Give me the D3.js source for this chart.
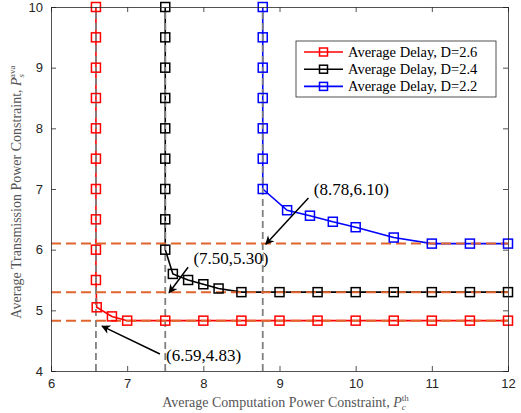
<!DOCTYPE html>
<html>
<head>
<meta charset="utf-8">
<script src="https://cdn.jsdelivr.net/npm/d3@7"></script>
<style>
  body { margin: 0; background: #fff; }
  text { fill: #262626; }
</style>
</head>
<body>
<div id="chart"></div>
<script>
// Series data (x = computation power, y = transmission power)
var red_x = [6.59, 6.59, 6.59, 6.59, 6.59, 6.59, 6.59, 6.59, 6.59, 6.59, 6.6, 6.8, 7, 7.5, 8, 8.5, 9, 9.5, 10, 10.5, 11, 11.5, 12];
var red_y = [10, 9.5, 9, 8.5, 8, 7.5, 7, 6.5, 6, 5.5, 5.05, 4.9, 4.83, 4.83, 4.83, 4.83, 4.83, 4.83, 4.83, 4.83, 4.83, 4.83, 4.83];

var black_x = [7.5, 7.5, 7.5, 7.5, 7.5, 7.5, 7.5, 7.5, 7.5, 7.6, 7.8, 8, 8.2, 8.5, 9, 9.5, 10, 10.5, 11, 11.5, 12];
var black_y = [10, 9.5, 9, 8.5, 8, 7.5, 7, 6.5, 6, 5.6, 5.5, 5.43, 5.36, 5.3, 5.3, 5.3, 5.3, 5.3, 5.3, 5.3, 5.3];

var blue_x = [8.78, 8.78, 8.78, 8.78, 8.78, 8.78, 8.78, 9.1, 9.4, 9.7, 10, 10.5, 11, 11.5, 12];
var blue_y = [10, 9.5, 9, 8.5, 8, 7.5, 7, 6.65, 6.56, 6.46, 6.37, 6.2, 6.1, 6.1, 6.1];

var series_names = ["Average Delay, D=2.6", "Average Delay, D=2.4", "Average Delay, D=2.2"];
var series_colors = ["#ff0000", "#000000", "#0000ff"];

// Reference lines
var ref_x = [6.59, 7.5, 8.78];
var ref_y = [4.83, 5.3, 6.1];

// Annotations: label, text position, arrow tail, arrow head
var ann_labels = ["(8.78,6.10)", "(7.50,5.30)", "(6.59,4.83)"];
var ann_text = [[9.45, 6.9], [7.87, 5.77], [7.51, 4.16]];
var ann_tail = [[9.38, 6.85], [7.8, 5.71], [7.43, 4.28]];
var ann_head = [[8.82, 6.09], [7.55, 5.29], [6.67, 4.74]];

var x_ticks = [6, 7, 8, 9, 10, 11, 12];
var y_ticks = [4, 5, 6, 7, 8, 9, 10];

// Margin convention
var margin = {top: 7, right: 13, bottom: 42, left: 51};
var width = 521 - margin.left - margin.right;
var height = 413 - margin.top - margin.bottom;

var svg = d3.select("#chart")
            .append("svg")
            .attr("width", 521)
            .attr("height", 413)
            .append("g")
            .attr("transform", "translate(" + margin.left + "," + margin.top + ")");

var x = d3.scaleLinear().domain([6, 12]).range([0, width]);
var y = d3.scaleLinear().domain([4, 10]).range([height, 0]);

svg.append("defs").append("marker")
   .attr("id", "arrow")
   .attr("viewBox", "0 0 10 10")
   .attr("refX", 9).attr("refY", 5)
   .attr("markerWidth", 11).attr("markerHeight", 9)
   .attr("markerUnits", "userSpaceOnUse")
   .attr("orient", "auto")
   .append("path")
   .attr("d", "M0,0 L10,5 L0,10 L3,5 Z")
   .attr("fill", "#000");

var series = [
    {x: red_x, y: red_y},
    {x: black_x, y: black_y},
    {x: blue_x, y: blue_y}
];

var line = d3.line().x(d => x(d[0])).y(d => y(d[1]));

series.forEach(function(s, i) {
    var pts = s.x.map((v, j) => [v, s.y[j]]);
    svg.append("path")
       .datum(pts)
       .attr("fill", "none")
       .attr("stroke", series_colors[i])
       .attr("stroke-width", 1.6)
       .attr("d", line);
});

// Dashed reference lines
svg.append("g").selectAll("line")
   .data(ref_x).enter().append("line")
   .attr("x1", d => x(d)).attr("x2", d => x(d))
   .attr("y1", y(4)).attr("y2", y(10))
   .attr("stroke", "#808080")
   .attr("stroke-width", 1.8)
   .attr("stroke-dasharray", "7 4");

svg.append("g").selectAll("line")
   .data(ref_y).enter().append("line")
   .attr("x1", x(6)).attr("x2", x(12))
   .attr("y1", d => y(d)).attr("y2", d => y(d))
   .attr("stroke", "#e0642c")
   .attr("stroke-width", 2)
   .attr("stroke-dasharray", "10 5");

// Markers
series.forEach(function(s, i) {
    var pts = s.x.map((v, j) => [v, s.y[j]]);
    svg.append("g").selectAll("rect")
       .data(pts).enter().append("rect")
       .attr("x", d => x(d[0]) - 4.5)
       .attr("y", d => y(d[1]) - 4.5)
       .attr("width", 9).attr("height", 9)
       .attr("fill", "none")
       .attr("stroke", series_colors[i])
       .attr("stroke-width", 1.5);
});

// Axes (box with inward ticks)
var axisColor = "#262626";
var gx = svg.append("g").attr("transform", "translate(0," + height + ")")
            .call(d3.axisBottom(x).tickValues(x_ticks).tickSize(-5).tickPadding(8).tickFormat(d3.format("d")));
var gxt = svg.append("g")
             .call(d3.axisTop(x).tickValues(x_ticks).tickSize(-5).tickFormat(""));
var gy = svg.append("g")
            .call(d3.axisLeft(y).tickValues(y_ticks).tickSize(-5).tickPadding(8).tickFormat(d3.format("d")));
var gyr = svg.append("g").attr("transform", "translate(" + width + ",0)")
             .call(d3.axisRight(y).tickValues(y_ticks).tickSize(-5).tickFormat(""));

[gx, gxt, gy, gyr].forEach(function(g) {
    g.selectAll("path, line").attr("stroke", axisColor).attr("stroke-width", 0.8);
    g.selectAll("text").attr("font-family", "Liberation Sans, Arial, sans-serif")
     .attr("font-size", 13).attr("fill", axisColor);
});

// Legend
var legend = svg.append("g").attr("transform", "translate(" + (296 - margin.left) + "," + (41 - margin.top) + ")");
legend.append("rect")
      .attr("width", 200).attr("height", 56)
      .attr("fill", "#fff").attr("stroke", "#262626").attr("stroke-width", 0.8);
series_names.forEach(function(name, i) {
    var ly = 11 + i * 17.2;
    legend.append("line")
          .attr("x1", 8).attr("x2", 47).attr("y1", ly).attr("y2", ly)
          .attr("stroke", series_colors[i]).attr("stroke-width", 1.6);
    legend.append("rect")
          .attr("x", 27.5 - 4).attr("y", ly - 4).attr("width", 8).attr("height", 8)
          .attr("fill", "none").attr("stroke", series_colors[i]).attr("stroke-width", 1.5);
    legend.append("text")
          .attr("x", 52).attr("y", ly + 5)
          .attr("font-family", "Liberation Serif, Times New Roman, serif")
          .attr("font-size", 14.5)
          .style("fill", "#000")
          .text(name);
});

// Annotations
ann_labels.forEach(function(lbl, i) {
    svg.append("line")
       .attr("x1", x(ann_tail[i][0])).attr("y1", y(ann_tail[i][1]))
       .attr("x2", x(ann_head[i][0])).attr("y2", y(ann_head[i][1]))
       .attr("stroke", "#000").attr("stroke-width", 1.5)
       .attr("marker-end", "url(#arrow)");
    svg.append("text")
       .attr("x", x(ann_text[i][0])).attr("y", y(ann_text[i][1]))
       .attr("font-family", "Liberation Serif, Times New Roman, serif")
       .attr("font-size", 17)
       .style("fill", "#000")
       .text(lbl);
});

// Axis labels
var xl = svg.append("text")
            .attr("x", width / 2 + 6).attr("y", height + 36)
            .attr("text-anchor", "middle")
            .attr("font-family", "Liberation Serif, Times New Roman, serif")
            .attr("font-size", 14)
            .style("fill", "#555");
xl.append("tspan").text("Average Computation Power Constraint, ");
xl.append("tspan").attr("font-style", "italic").text("P");
xl.append("tspan").attr("font-size", 9).attr("font-style", "italic").attr("dy", 3).text("c");
xl.append("tspan").attr("font-size", 9).attr("dy", -9).attr("dx", -4).text("th");

var yl = svg.append("text")
            .attr("transform", "translate(" + (-30) + "," + (height / 2 + 3) + ") rotate(-90)")
            .attr("text-anchor", "middle")
            .attr("font-family", "Liberation Serif, Times New Roman, serif")
            .attr("font-size", 14)
            .style("fill", "#555");
yl.append("tspan").text("Average Transmission Power Constraint, ");
yl.append("tspan").attr("font-style", "italic").text("P");
yl.append("tspan").attr("font-size", 9).attr("font-style", "italic").attr("dy", 3).text("s");
yl.append("tspan").attr("font-size", 9).attr("dy", -9).attr("dx", -4).text("ava");
</script>
</body>
</html>
